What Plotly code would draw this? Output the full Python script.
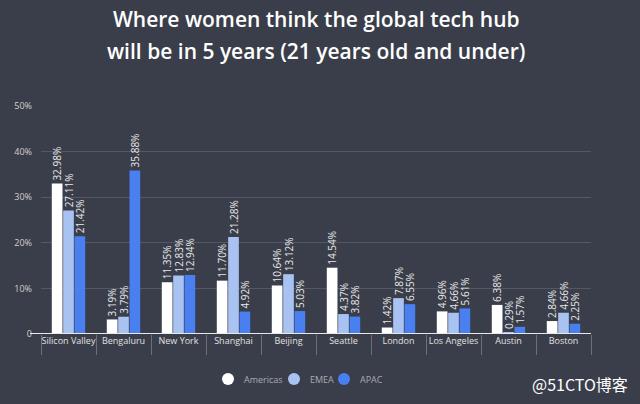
import plotly.graph_objects as go

cities = ["Silicon Valley", "Bengaluru", "New York", "Shanghai", "Beijing",
          "Seattle", "London", "Los Angeles", "Austin", "Boston"]
americas = [32.98, 3.19, 11.35, 11.70, 10.64, 14.54, 1.42, 4.96, 6.38, 2.84]
emea = [27.11, 3.79, 12.83, 21.28, 13.12, 4.37, 7.87, 4.66, 0.29, 4.66]
apac = [21.42, 35.88, 12.94, 4.92, 5.03, 3.82, 6.55, 5.61, 1.57, 2.25]
series_names = ["Americas", "EMEA", "APAC"]
series_colors = ["#ffffff", "#a8c2f2", "#4a7ff0"]
ytick_vals = [0, 10, 20, 30, 40, 50]
ytick_text = ["0", "10%", "20%", "30%", "40%", "50%"]

W, H = 640, 404
L, R, T, B = 41, 49, 106, 70
PW, PH = W - L - R, H - T - B


def px(x):
    return (x - L) / PW


def py(y):
    return (H - B - y) / PH


BG = "#3a3e4a"
fig = go.Figure()
for name, vals, col in zip(series_names, [americas, emea, apac], series_colors):
    fig.add_trace(go.Bar(
        x=cities, y=vals, name=name, marker=dict(color=col, line=dict(width=0)),
        text=[f"{v:.2f}%" for v in vals], textposition="outside", textangle=-90,
        textfont=dict(color="#e8e8e8", size=10), cliponaxis=False, showlegend=False))

shapes = [dict(type="line", xref="paper", yref="y", x0=px(30), x1=1.0, y0=0, y1=0,
               line=dict(color="#e8e8e8", width=2), layer="above")]
annotations = [
    dict(text="Where women think the global tech hub", x=0.5, xref="paper",
         xanchor="center", y=py(19), yref="paper", yanchor="middle", showarrow=False,
         font=dict(size=21, color="#ffffff", family="Open Sans", weight=600)),
    dict(text="will be in 5 years (21 years old and under)", x=0.5, xref="paper",
         xanchor="center", y=py(51), yref="paper", yanchor="middle", showarrow=False,
         font=dict(size=21, color="#ffffff", family="Open Sans", weight=600)),
    dict(text="@51CTO博客", x=px(580), xref="paper", xanchor="center",
         y=py(384), yref="paper", yanchor="middle", showarrow=False,
         font=dict(size=16, color="#ffffff", family="Noto Sans CJK SC")),
]
legend_cx = [228, 294, 344]
legend_tx = [242, 308, 358]
for name, col, cx, tx in zip(series_names, series_colors, legend_cx, legend_tx):
    shapes.append(dict(type="circle", xref="paper", yref="paper",
                       xsizemode="pixel", ysizemode="pixel",
                       xanchor=px(cx), yanchor=py(379),
                       x0=-6, x1=6, y0=-6, y1=6,
                       fillcolor=col, line=dict(width=0)))
    annotations.append(dict(text=name, x=px(tx), xref="paper", xanchor="left",
                            y=py(379), yref="paper", yanchor="middle", showarrow=False,
                            font=dict(size=9, color="#a9abb3")))

fig.update_layout(
    width=W, height=H,
    paper_bgcolor=BG, plot_bgcolor=BG,
    font=dict(family="Open Sans", color="#e0e0e0"),
    margin=dict(l=L, r=R, t=T, b=B),
    barmode="group", bargap=0.38, bargroupgap=0.06,
    uniformtext=dict(minsize=9, mode="show"),
    showlegend=False,
    xaxis=dict(showgrid=False, ticks="outside", tickson="boundaries", ticklen=20,
               tickcolor="#6c707a", tickangle=0,
               tickfont=dict(size=9, color="#e0e0e0"),
               showline=False, fixedrange=True),
    yaxis=dict(range=[0, 50], tickvals=ytick_vals, ticktext=ytick_text,
               gridcolor="#545864", gridwidth=1, zeroline=False,
               tickfont=dict(size=9, color="#d0d0d0"), ticklabelstandoff=8),
    shapes=shapes,
    annotations=annotations,
)
fig.write_html("out.html",
               config={"displayModeBar": False},
               post_script="document.body.style.margin='0px';"
                           "document.body.style.overflow='hidden';"
                           "document.body.style.background='" + BG + "';")
